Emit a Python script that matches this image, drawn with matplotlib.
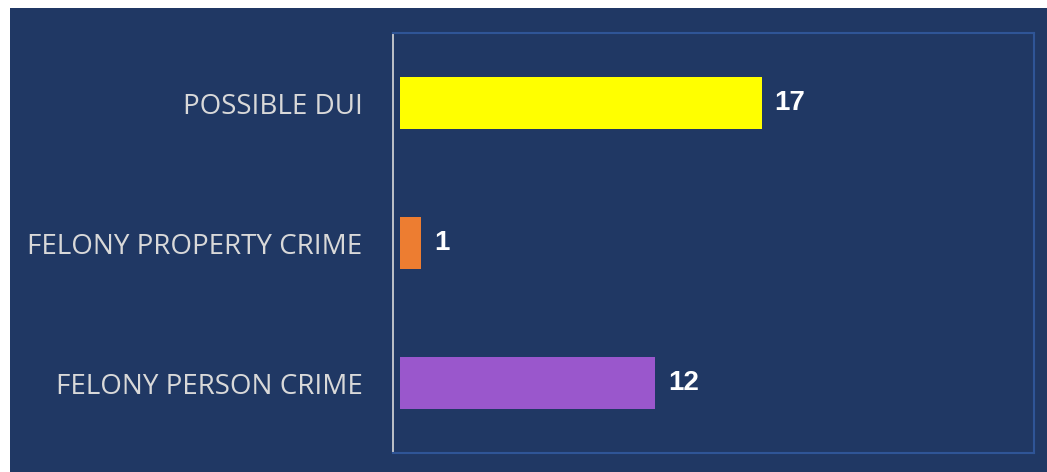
import matplotlib.pyplot as plt
from matplotlib.patches import Rectangle

categories = ["FELONY PERSON CRIME", "FELONY PROPERTY CRIME", "POSSIBLE DUI"]
values = [12, 1, 17]
colors = ["#9a57cc", "#ed7d31", "#ffff00"]

navy = "#203864"
W, H = 1047, 472

fig = plt.figure(figsize=(W / 100, H / 100), dpi=100, facecolor="white")
fig.patches.append(Rectangle((10 / W, 0), 1 - 10 / W, 1 - 8 / H,
                             transform=fig.transFigure, facecolor=navy,
                             edgecolor="none", zorder=-1))

ax = fig.add_axes([393 / W, (H - 453) / H, (1034 - 393) / W, (453 - 33) / H])
ax.set_facecolor(navy)

y = range(len(categories))
ax.barh(y, values, height=0.37, color=colors)
ax.set_xlim(-0.33, 29.8)
ax.set_ylim(-0.5, 2.5)

for yi, v in zip(y, values):
    ax.text(v + 0.6, yi, str(v), va="center", ha="left", color="white",
            fontsize=20, fontweight="bold", family="Liberation Sans")

ax.set_yticks(list(y))
ax.set_yticklabels(categories, family="Open Sans", fontsize=20, color="#d9d9d9")
ax.tick_params(axis="y", length=0, pad=22)
ax.set_xticks([])

for side in ["top", "right", "bottom"]:
    ax.spines[side].set_color("#2f5597")
    ax.spines[side].set_linewidth(1.5)
ax.spines["left"].set_color("#d9d9d9")
ax.spines["left"].set_linewidth(1.2)

fig.savefig("out.png", dpi=100, facecolor="white")
